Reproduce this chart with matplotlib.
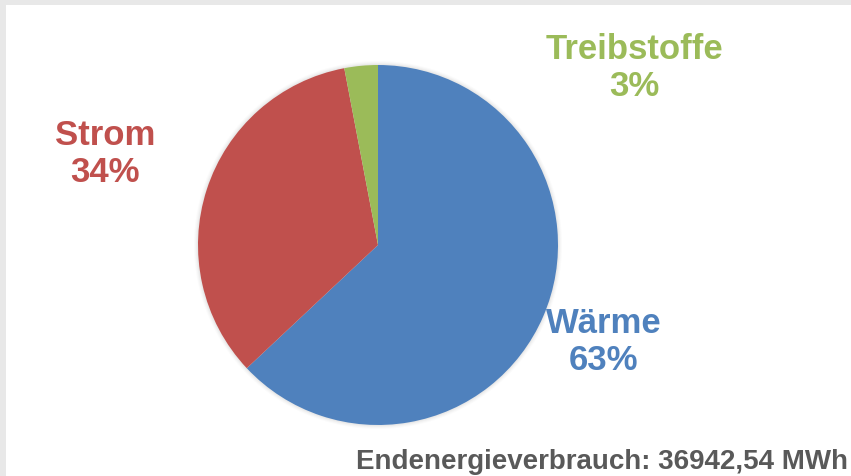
import matplotlib.pyplot as plt
from matplotlib.patches import Rectangle, Circle

# data
categories = ['Wärme', 'Strom', 'Treibstoffe']
shares = [63, 34, 3]
colors = ['#4F81BD', '#C0504D', '#9BBB59']
total_text = 'Endenergieverbrauch: 36942,54 MWh'

plt.rcParams['font.family'] = ['Liberation Sans', 'DejaVu Sans']

fig = plt.figure(figsize=(8.51, 4.76), dpi=100, facecolor='#E8E8E8')
ax = fig.add_axes([0, 0, 1, 1])
ax.set_xlim(0, 851)
ax.set_ylim(0, 476)
ax.axis('off')

# white panel inside the grey frame
ax.add_patch(Rectangle((6, 0), 845, 471, facecolor='white', edgecolor='none', zorder=0))

# soft shadow around the pie
cx, cy, r = 378, 231, 180
for k, a in [(4, 0.03), (3, 0.04), (2, 0.05), (1, 0.06)]:
    ax.add_patch(Circle((cx, cy), r + k, facecolor='#808080', alpha=a, edgecolor='none', zorder=1))

wedges, _ = ax.pie(shares, colors=colors, startangle=90, counterclock=False,
                   center=(cx, cy), radius=r, frame=True,
                   wedgeprops=dict(linewidth=0, zorder=2))
ax.set_xlim(0, 851)
ax.set_ylim(0, 476)
ax.set_aspect('auto')
ax.axis('off')

# labels
label_pos = [(604, 134), (105, 322), (634, 408)]
for name, val, col, (x, y) in zip(categories, shares, colors, label_pos):
    ax.text(x, y, f'{name}\n{val}%', color=col, fontsize=25, fontweight='bold',
            ha='center', va='center', linespacing=1.15)

ax.text(848, 7, total_text, color='#595959', fontsize=20, fontweight='bold',
        ha='right', va='baseline')

fig.savefig('out.png', dpi=100, facecolor=fig.get_facecolor())
